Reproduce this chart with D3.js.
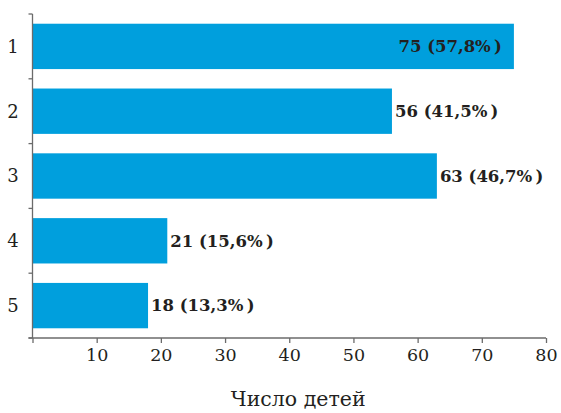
<!DOCTYPE html>
<html>
<head>
<meta charset="utf-8">
<script src="https://cdn.jsdelivr.net/npm/d3@7"></script>
<style>
  html, body { margin: 0; padding: 0; background: #fff; }
  svg text { font-family: "DejaVu Serif", "Liberation Serif", serif; fill: #231f20; }
</style>
</head>
<body>
<svg id="chart" width="561" height="413"></svg>
<script>
// Number of children per group
const categories = ["1", "2", "3", "4", "5"];
const counts = [75, 56, 63, 21, 18];
const percents = ["57,8", "41,5", "46,7", "15,6", "13,3"];
const xTicks = [0, 10, 20, 30, 40, 50, 60, 70, 80];
const axisTitle = "Число детей";

const svg = d3.select("#chart");
const barColor = "#009fdd";
const axisColor = "#6b6b6b";

const x = d3.scaleLinear().domain([0, 80]).range([32.5, 546]);
const y = d3.scaleBand().domain(categories).range([14, 338])
  .paddingInner(0.3).paddingOuter(0.15);
const step = y.step();
const gap = step * y.paddingInner() / 2;

// Bars
svg.append("g").selectAll("rect").data(categories).join("rect")
  .attr("x", x(0))
  .attr("y", d => y(d))
  .attr("width", (d, i) => x(counts[i]) - x(0))
  .attr("height", y.bandwidth())
  .attr("fill", barColor);

// Value labels: the longest bar carries its label inside
const maxCount = d3.max(counts);
svg.append("g").selectAll("text").data(categories).join("text")
  .attr("x", (d, i) => counts[i] === maxCount ? x(counts[i]) - 12 : x(counts[i]) + 3)
  .attr("y", d => y(d) + y.bandwidth() / 2)
  .attr("dy", "0.35em")
  .attr("text-anchor", (d, i) => counts[i] === maxCount ? "end" : "start")
  .attr("font-size", 16.5)
  .attr("font-weight", "bold")
  .text((d, i) => `${counts[i]} (${percents[i]}%\u2009)`);

// Vertical axis with ticks at band boundaries
const yAxis = svg.append("g").attr("stroke", axisColor).attr("stroke-width", 1.3);
yAxis.append("line")
  .attr("x1", x(0)).attr("x2", x(0))
  .attr("y1", y(categories[0]) - gap).attr("y2", y.range()[1]);
const bounds = categories.map(d => y(d) - gap).concat([y.range()[1]]);
yAxis.selectAll("line.tick").data(bounds).join("line")
  .attr("class", "tick")
  .attr("x1", x(0) - 4).attr("x2", x(0))
  .attr("y1", d => d).attr("y2", d => d);

svg.append("g").selectAll("text").data(categories).join("text")
  .attr("x", 13)
  .attr("y", d => y(d) + y.bandwidth() / 2)
  .attr("dy", "0.35em")
  .attr("text-anchor", "middle")
  .attr("font-size", 18)
  .text(d => d);

// Horizontal axis
const xAxis = svg.append("g")
  .attr("transform", `translate(0,${y.range()[1]})`)
  .call(d3.axisBottom(x).tickValues(xTicks).tickSize(5).tickSizeOuter(0)
    .tickFormat(d => d === 0 ? "" : d));
xAxis.select(".domain").attr("stroke", axisColor).attr("stroke-width", 1.3)
  .attr("d", `M${x(0) - 4},0H${x(80)}`);
xAxis.selectAll(".tick line").attr("stroke", axisColor).attr("stroke-width", 1.3);
xAxis.selectAll(".tick text")
  .attr("font-size", 17.5)
  .attr("font-family", "DejaVu Serif, serif")
  .attr("fill", "#231f20")
  .attr("y", 11);

svg.append("text")
  .attr("x", (x(0) + x(80)) / 2 + 9)
  .attr("y", 406)
  .attr("text-anchor", "middle")
  .attr("font-size", 20.5)
  .text(axisTitle);
</script>
</body>
</html>
